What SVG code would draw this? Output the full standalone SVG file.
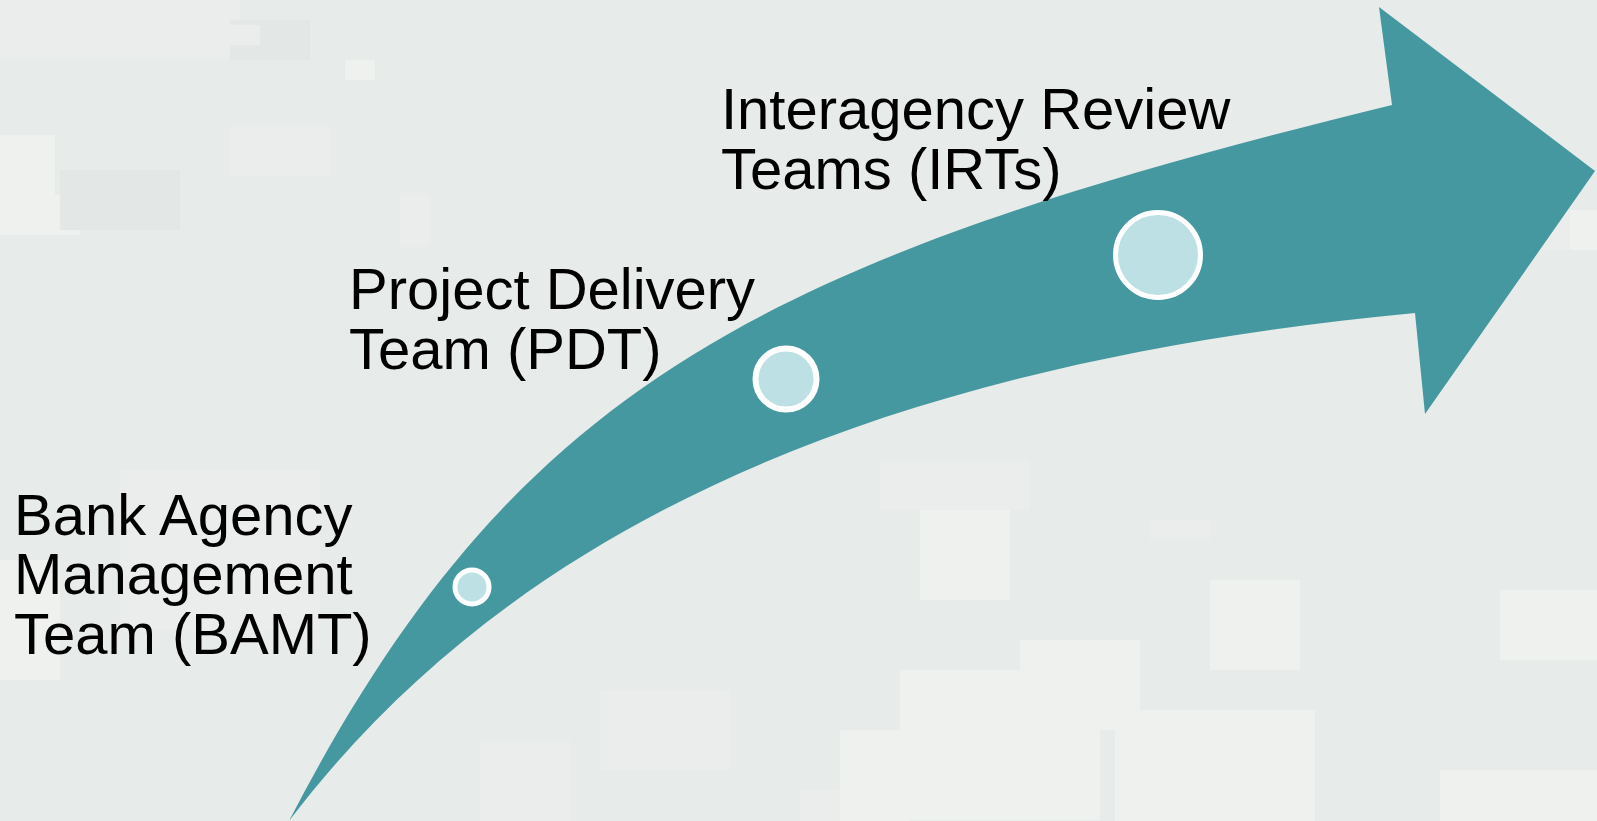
<svg xmlns="http://www.w3.org/2000/svg" width="1597" height="821" viewBox="0 0 1597 821">
  <defs>
    <style>
      .lbl { font-family: "Liberation Sans", Arial, sans-serif; font-size: 58px; fill: #000000; }
      .dot { fill: #bce0e3; stroke: #ffffff; }
      .lt { fill: #eff1ee; }
      .md { fill: #eaedeb; }
      .dk { fill: #e3e7e5; }
    </style>
  </defs>
  <g id="background">
    <rect x="0" y="0" width="1597" height="821" fill="#e7ebe9"/>
    <rect class="md" x="0" y="0" width="240" height="60"/>
    <rect class="dk" x="230" y="20" width="80" height="40"/>
    <rect class="md" x="200" y="25" width="60" height="20"/>
    <rect class="lt" x="345" y="60" width="30" height="20"/>
    <rect class="md" x="230" y="125" width="100" height="50"/>
    <rect class="lt" x="0" y="135" width="55" height="100"/>
    <rect class="lt" x="55" y="195" width="25" height="40"/>
    <rect class="md" x="400" y="195" width="30" height="50"/>
    <rect class="dk" x="60" y="170" width="120" height="60"/>
    <rect class="md" x="120" y="470" width="200" height="160"/>
    <rect class="lt" x="0" y="560" width="60" height="120"/>
    <rect class="md" x="880" y="460" width="150" height="50"/>
    <rect class="lt" x="920" y="510" width="90" height="90"/>
    <rect class="lt" x="1210" y="580" width="90" height="90"/>
    <rect class="lt" x="900" y="670" width="200" height="150"/>
    <rect class="lt" x="1020" y="640" width="120" height="90"/>
    <rect class="lt" x="1115" y="710" width="200" height="111"/>
    <rect class="lt" x="1500" y="590" width="97" height="70"/>
    <rect class="md" x="800" y="790" width="60" height="31"/>
    <rect class="md" x="1150" y="520" width="60" height="20"/>
    <rect class="lt" x="840" y="730" width="70" height="91"/>
    <rect class="md" x="1520" y="210" width="60" height="40"/>
    <rect class="lt" x="1570" y="210" width="27" height="40"/>
    <rect class="md" x="600" y="690" width="130" height="80"/>
    <rect class="md" x="480" y="740" width="90" height="81"/>
    <rect class="lt" x="1440" y="770" width="157" height="51"/>
  </g>
  <g id="connectors">
    <path id="arrow" d="M 289 821 C 515 385 760 260 1392 105 L 1379 7 L 1595 171 L 1425 414 L 1415 313 C 870 365 510 530 289 821 Z" fill="#4698a0"/>
  </g>
  <g id="node-bamt">
    <circle class="dot" cx="472" cy="587" r="17" stroke-width="5"/>
    <text class="lbl" x="14" y="535">Bank Agency</text>
    <text class="lbl" x="14" y="594">Management</text>
    <text class="lbl" x="14" y="654">Team (BAMT)</text>
  </g>
  <g id="node-pdt">
    <circle class="dot" cx="786" cy="379" r="30.5" stroke-width="6"/>
    <text class="lbl" x="349" y="309">Project Delivery</text>
    <text class="lbl" x="349" y="369">Team (PDT)</text>
  </g>
  <g id="node-irt">
    <circle class="dot" cx="1158" cy="255" r="42.5" stroke-width="5"/>
    <text class="lbl" x="721" y="129">Interagency Review</text>
    <text class="lbl" x="721" y="189">Teams (IRTs)</text>
  </g>
</svg>
